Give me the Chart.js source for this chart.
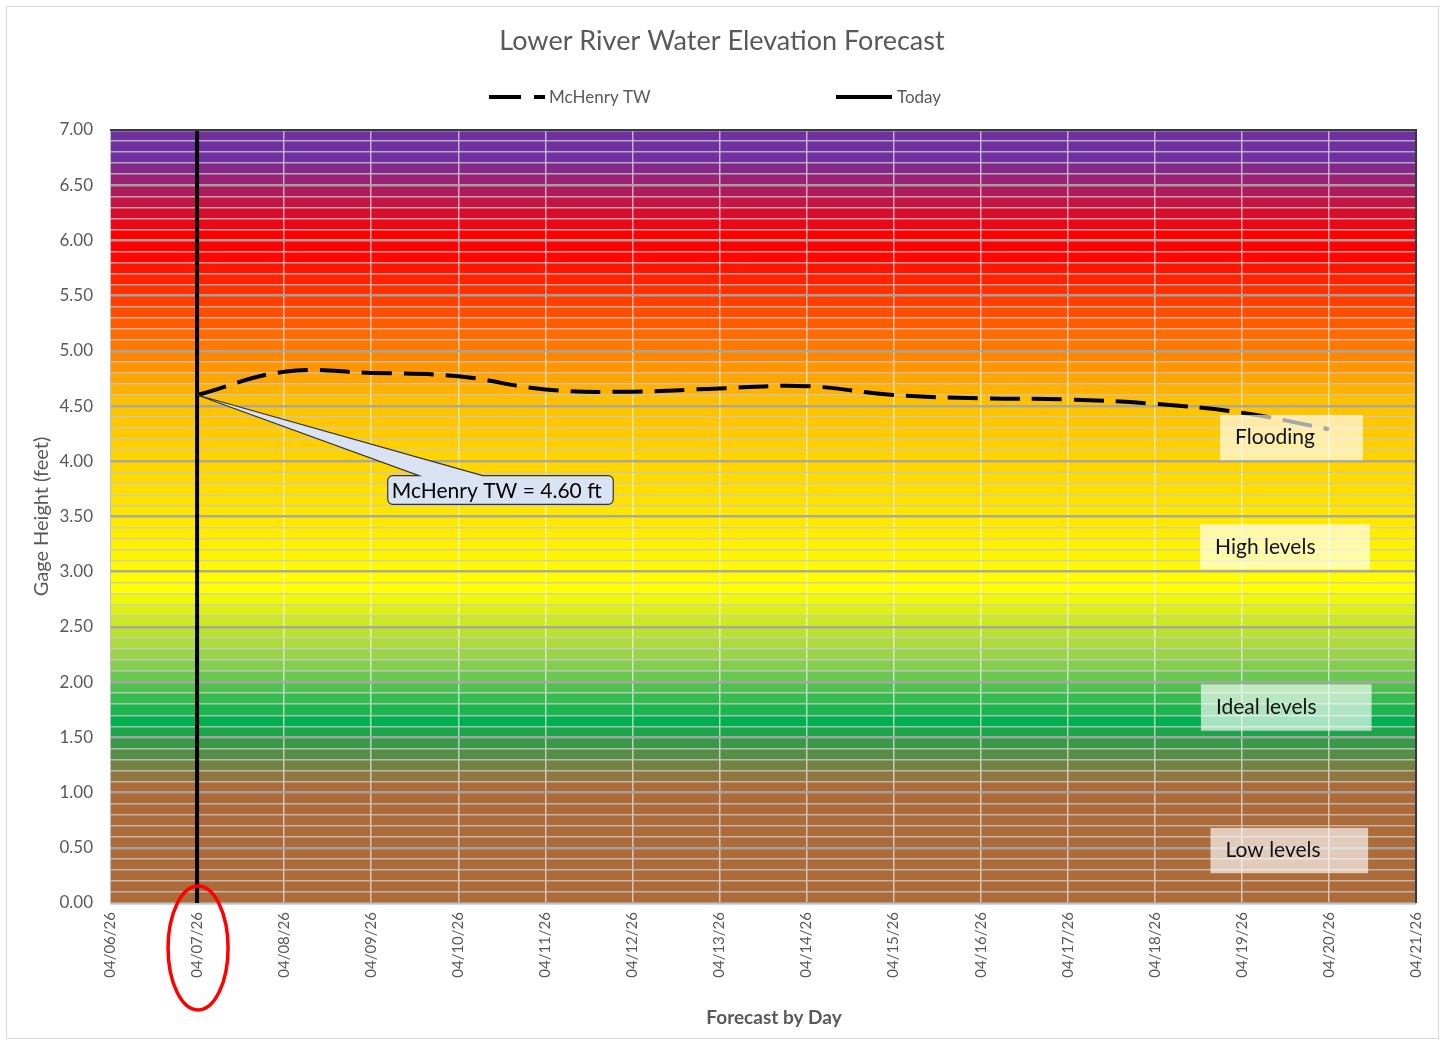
<!DOCTYPE html>
<html>
<head>
<meta charset="utf-8">
<script src="https://cdn.jsdelivr.net/npm/chart.js@4.4.1/dist/chart.umd.min.js"></script>
<style>
  body { margin: 0; background: #fff; }
  #wrap { position: relative; width: 1445px; height: 1044px; }
</style>
</head>
<body>
<div id="wrap"><canvas id="levelChart"></canvas></div>
<script>
// day labels on the x axis
const days = ['04/06/26','04/07/26','04/08/26','04/09/26','04/10/26','04/11/26','04/12/26','04/13/26',
  '04/14/26','04/15/26','04/16/26','04/17/26','04/18/26','04/19/26','04/20/26','04/21/26'];

// forecast gage height (feet), one value per day
const mchenryTW = [null, 4.60, 4.81, 4.80, 4.77, 4.65, 4.63, 4.66, 4.68, 4.60, 4.57, 4.56, 4.52, 4.44, 4.29, null];

// vertical "today" marker
const todayDay = '04/07/26';
const todayRange = [0, 7];

// y axis range
const yMin = 0, yMax = 7, yStep = 0.1;

// zone labels
const zoneNames = ['Flooding', 'High levels', 'Ideal levels', 'Low levels'];

// colour stops of the banded background (value -> colour)
const bandStops = [
  [7.00, [112, 48, 160]], [6.75, [112, 48, 160]], [6.05, [255, 0, 0]], [5.90, [255, 0, 0]],
  [4.55, [255, 192, 0]], [2.85, [255, 255, 0]], [2.20, [146, 208, 80]], [1.65, [0, 176, 80]],
  [1.05, [173, 107, 58]], [0.00, [173, 107, 58]]
];

function bandColor(v) {
  for (let i = 0; i < bandStops.length - 1; i++) {
    const [v0, c0] = bandStops[i], [v1, c1] = bandStops[i + 1];
    if (v <= v0 && v >= v1) {
      const t = (v0 - v) / (v0 - v1);
      const c = c0.map((c, k) => Math.round(c + (c1[k] - c) * t));
      return 'rgb(' + c.join(',') + ')';
    }
  }
  return 'rgb(173,107,58)';
}

const FONT = 'Lato, "Open Sans", sans-serif';
const GRAY = '#595959';

// where the zone boxes sit, in axis units (day index / feet)
const zoneBoxes = [
  {x0: 12.75, x1: 14.39, y0: 4.42, y1: 4.01},
  {x0: 12.52, x1: 14.47, y0: 3.43, y1: 3.02},
  {x0: 12.53, x1: 14.49, y0: 1.98, y1: 1.56},
  {x0: 12.64, x1: 14.45, y0: 0.68, y1: 0.27}
];

function isMajor(v) { return Math.abs(v * 2 - Math.round(v * 2)) < 1e-6; }

const decorPlugin = {
  id: 'decor',
  beforeDraw(chart) {
    const {ctx, chartArea: a, scales: {y}} = chart;
    ctx.save();
    const n = Math.round((yMax - yMin) / yStep);
    for (let k = 0; k < n; k++) {
      const v = yMin + k * yStep;
      const top = y.getPixelForValue(v + yStep), bot = y.getPixelForValue(v);
      ctx.fillStyle = bandColor(v + yStep / 2);
      ctx.fillRect(a.left, top - 0.5, a.right - a.left, bot - top + 1);
    }
    ctx.restore();
  },
  afterDatasetsDraw(chart) {
    const {ctx, chartArea: a, scales: {x, y}} = chart;
    ctx.save();
    // zone label boxes
    zoneBoxes.forEach((b, i) => {
      const l = x.getPixelForValue(b.x0), r = x.getPixelForValue(b.x1);
      const t = y.getPixelForValue(b.y0), btm = y.getPixelForValue(b.y1);
      ctx.fillStyle = 'rgba(255,255,255,0.65)';
      ctx.fillRect(l, t, r - l, btm - t);
      ctx.fillStyle = '#111';
      ctx.font = '21px ' + FONT;
      ctx.textAlign = 'left';
      ctx.textBaseline = 'middle';
      ctx.fillText(zoneNames[i], l + 15, (t + btm) / 2);
    });

    // callout for today's value
    const tipX = x.getPixelForValue(1), tipY = y.getPixelForValue(mchenryTW[1]);
    const bl = x.getPixelForValue(3.19), br = x.getPixelForValue(5.78);
    const bt = y.getPixelForValue(3.87), bb = y.getPixelForValue(3.61);
    const w1 = x.getPixelForValue(3.55), w2 = x.getPixelForValue(4.28);
    const r = 5;
    ctx.beginPath();
    ctx.moveTo(bl + r, bt);
    ctx.lineTo(w1, bt);
    ctx.lineTo(tipX, tipY);
    ctx.lineTo(w2, bt);
    ctx.lineTo(br - r, bt);
    ctx.arcTo(br, bt, br, bt + r, r);
    ctx.lineTo(br, bb - r);
    ctx.arcTo(br, bb, br - r, bb, r);
    ctx.lineTo(bl + r, bb);
    ctx.arcTo(bl, bb, bl, bb - r, r);
    ctx.lineTo(bl, bt + r);
    ctx.arcTo(bl, bt, bl + r, bt, r);
    ctx.closePath();
    ctx.fillStyle = '#dae3f3';
    ctx.fill();
    ctx.strokeStyle = '#333';
    ctx.lineWidth = 1.2;
    ctx.stroke();
    ctx.fillStyle = '#000';
    ctx.font = '21px ' + FONT;
    ctx.textAlign = 'left';
    ctx.textBaseline = 'middle';
    ctx.fillText('McHenry TW = ' + mchenryTW[1].toFixed(2) + ' ft', bl + 4, (bt + bb) / 2 + 1);

    // dark top and right edges of plot area
    ctx.strokeStyle = '#3a3a3a';
    ctx.lineWidth = 2;
    ctx.beginPath();
    ctx.moveTo(a.left, a.top);
    ctx.lineTo(a.right, a.top);
    ctx.lineTo(a.right, a.bottom);
    ctx.stroke();
    ctx.restore();
  },
  afterDraw(chart) {
    const {ctx, chartArea: a, scales: {x}} = chart;
    ctx.save();
    // title
    ctx.fillStyle = GRAY;
    ctx.font = '27px ' + FONT;
    ctx.textAlign = 'center';
    ctx.textBaseline = 'middle';
    ctx.fillText('Lower River Water Elevation Forecast', 722, 41);

    // x axis title
    ctx.font = 'bold 19px ' + FONT;
    ctx.fillText('Forecast by Day', 774, 1018);

    // legend
    ctx.lineWidth = 4;
    ctx.strokeStyle = '#000';
    ctx.setLineDash([32, 13]);
    ctx.beginPath(); ctx.moveTo(489, 97); ctx.lineTo(545, 97); ctx.stroke();
    ctx.setLineDash([]);
    ctx.beginPath(); ctx.moveTo(836, 97); ctx.lineTo(892, 97); ctx.stroke();
    ctx.font = '17px ' + FONT;
    ctx.textAlign = 'left';
    ctx.fillText('McHenry TW', 549, 98);
    ctx.fillText('Today', 897, 98);

    // red ellipse round today's date label
    ctx.strokeStyle = '#ff0000';
    ctx.lineWidth = 3.5;
    ctx.beginPath();
    ctx.ellipse(x.getPixelForValue(1) + 1, a.bottom + 45, 30, 62, 0, 0, Math.PI * 2);
    ctx.stroke();

    // outer frame
    ctx.strokeStyle = '#d9d9d9';
    ctx.lineWidth = 1;
    ctx.strokeRect(6.5, 6.5, 1432, 1032);
    ctx.restore();
  }
};

new Chart(document.getElementById('levelChart'), {
  type: 'line',
  data: {
    labels: days,
    datasets: [
      {label: 'McHenry TW', data: mchenryTW, borderColor: '#000', borderWidth: 4,
       borderDash: [30, 12], tension: 0.4, pointRadius: 0, fill: false},
      {label: 'Today', data: todayRange.map(v => ({x: todayDay, y: v})), borderColor: '#000',
       borderWidth: 4, pointRadius: 0, fill: false}
    ]
  },
  options: {
    responsive: true,
    maintainAspectRatio: false,
    animation: false,
    layout: {padding: {left: 0, right: 29, top: 130, bottom: 0}},
    plugins: {legend: {display: false}, tooltip: {enabled: false}},
    scales: {
      x: {
        type: 'category',
        afterFit(s) { s.height = 141; },
        grid: {color: 'rgba(255,255,255,0.6)', lineWidth: 1.5, drawTicks: false},
        border: {color: '#bfbfbf'},
        ticks: {color: GRAY, font: {family: FONT, size: 15}, minRotation: 90, maxRotation: 90,
                autoSkip: false, padding: 9}
      },
      y: {
        min: yMin, max: yMax,
        afterFit(s) { s.width = 110; },
        grid: {
          drawTicks: false,
          color: c => isMajor(c.tick.value) ? 'rgba(165,165,165,0.95)' : 'rgba(200,200,200,0.8)',
          lineWidth: c => isMajor(c.tick.value) ? 2.5 : 1.5
        },
        border: {color: '#bfbfbf'},
        ticks: {
          stepSize: yStep, maxTicksLimit: 200, autoSkip: false, padding: 17,
          color: GRAY, font: {family: FONT, size: 17},
          callback: v => isMajor(v) ? v.toFixed(2) : ''
        },
        title: {display: true, text: 'Gage Height (feet)', color: GRAY,
                font: {family: FONT, size: 20}, padding: {top: 30, bottom: 0}}
      }
    }
  },
  plugins: [decorPlugin]
});
</script>
</body>
</html>
